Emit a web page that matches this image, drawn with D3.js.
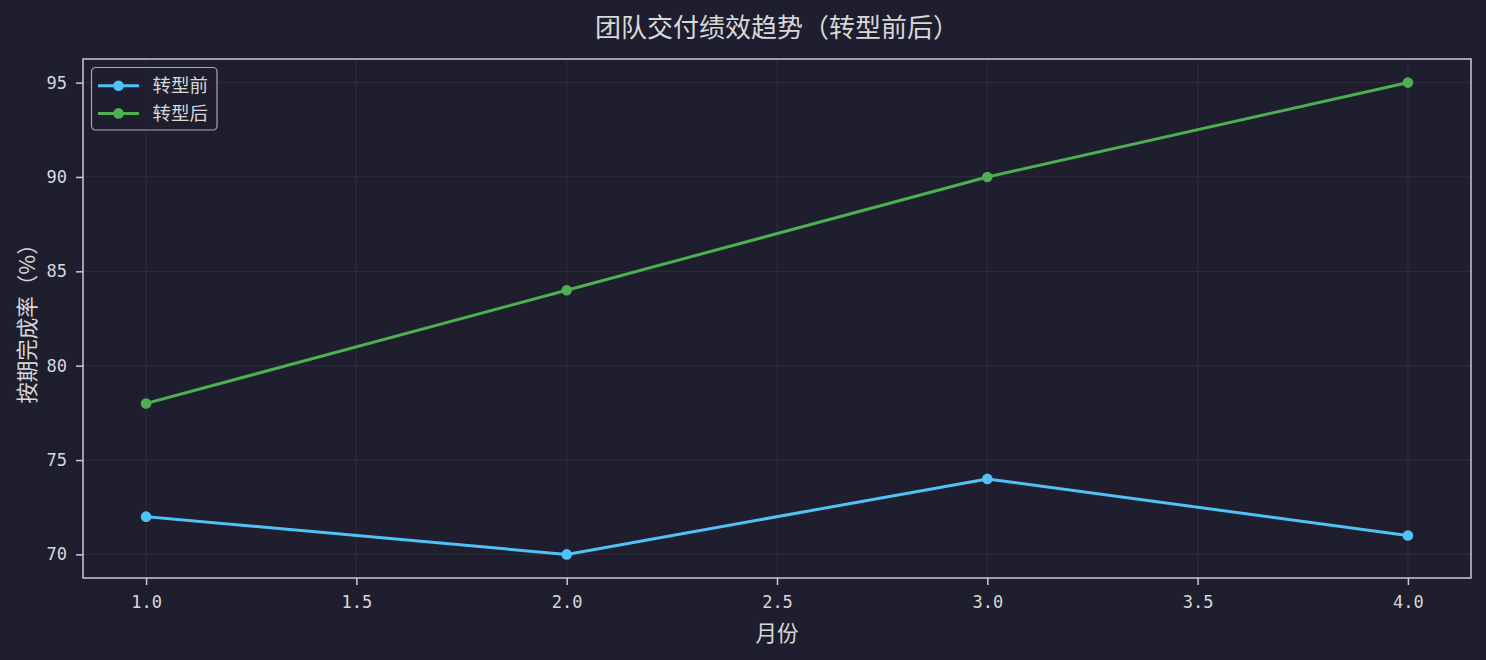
<!DOCTYPE html>
<html><head><meta charset="utf-8">
<script src="https://cdn.jsdelivr.net/npm/d3@7"></script>
<style>
html,body{margin:0;padding:0;background:#1e1e2e;}
svg{display:block;}
</style></head>
<body>
<svg id="c" width="1486" height="660"></svg>
<script>
const months = [1, 2, 3, 4];
const beforeVals = [72, 70, 74, 71];
const afterVals = [78, 84, 90, 95];
const seriesNames = ["转型前", "转型后"];
const xTicks = [1.0, 1.5, 2.0, 2.5, 3.0, 3.5, 4.0];
const yTicks = [70, 75, 80, 85, 90, 95];
const colors = ["#4fc3f7", "#4caf50"];

const W = 1486, H = 660;
const m = {left: 83, right: 1471, top: 59, bottom: 578};
const svg = d3.select("#c");
const fontCJK = "'Noto Sans CJK SC', 'Noto Sans', sans-serif";
const fontMono = "'DejaVu Sans Mono', monospace";
const textColor = "#d8d8d8";
const spineColor = "#cccccc";

svg.append("rect").attr("width", W).attr("height", H).attr("fill", "#1e1e2e");

const x = d3.scaleLinear().domain([0.85, 4.15]).range([m.left, m.right]);
const y = d3.scaleLinear().domain([68.75, 96.25]).range([m.bottom, m.top]);

// grid
const g = svg.append("g");
g.selectAll(".gx").data(xTicks).enter().append("line")
  .attr("x1", d => x(d)).attr("x2", d => x(d)).attr("y1", m.top).attr("y2", m.bottom)
  .attr("stroke", "#ffffff").attr("stroke-opacity", 0.06).attr("stroke-width", 1.2);
g.selectAll(".gy").data(yTicks).enter().append("line")
  .attr("y1", d => y(d)).attr("y2", d => y(d)).attr("x1", m.left).attr("x2", m.right)
  .attr("stroke", "#ffffff").attr("stroke-opacity", 0.06).attr("stroke-width", 1.2);

// axes
const xAxis = d3.axisBottom(x).tickValues(xTicks).tickFormat(d3.format(".1f")).tickSize(7).tickPadding(6);
const yAxis = d3.axisLeft(y).tickValues(yTicks).tickFormat(d3.format("d")).tickSize(7).tickPadding(9);
const gx = svg.append("g").attr("transform", `translate(0,${m.bottom})`).call(xAxis);
const gy = svg.append("g").attr("transform", `translate(${m.left},0)`).call(yAxis);
[gx, gy].forEach(a => {
  a.select(".domain").remove();
  a.selectAll(".tick line").attr("stroke", spineColor).attr("stroke-width", 1.5);
  a.selectAll(".tick text").attr("fill", textColor).style("font-family", fontMono).style("font-size", "17px");
});
gx.selectAll(".tick text").attr("y", 25).attr("dy", "0.32em");

// spines
svg.append("rect").attr("x", m.left).attr("y", m.top).attr("width", m.right - m.left).attr("height", m.bottom - m.top)
  .attr("fill", "none").attr("stroke", spineColor).attr("stroke-width", 1.5);

// lines
const line = d3.line().x((d, i) => x(months[i])).y(d => y(d));
[beforeVals, afterVals].forEach((vals, k) => {
  svg.append("path").datum(vals).attr("d", line).attr("fill", "none")
    .attr("stroke", colors[k]).attr("stroke-width", 3).attr("stroke-linejoin", "round").attr("stroke-linecap", "square");
  svg.selectAll(".pt" + k).data(vals).enter().append("circle")
    .attr("cx", (d, i) => x(months[i])).attr("cy", d => y(d)).attr("r", 5.3).attr("fill", colors[k]);
});

// title & labels
svg.append("text").attr("x", (m.left + m.right) / 2).attr("y", 37).attr("text-anchor", "middle")
  .attr("fill", textColor).style("font-family", fontCJK).style("font-size", "26px").text("团队交付绩效趋势（转型前后）");
svg.append("text").attr("x", (m.left + m.right) / 2).attr("y", 641).attr("text-anchor", "middle")
  .attr("fill", textColor).style("font-family", fontCJK).style("font-size", "21.5px").text("月份");
svg.append("text").attr("transform", `translate(35,${(m.top + m.bottom) / 2}) rotate(-90)`).attr("text-anchor", "middle")
  .attr("fill", textColor).style("font-family", fontCJK).style("font-size", "21.5px").text("按期完成率（%）");

// legend
const lg = svg.append("g").attr("transform", "translate(91.5,67.5)");
lg.append("rect").attr("width", 125.5).attr("height", 62.5).attr("rx", 4)
  .attr("fill", "#1e1e2e").attr("fill-opacity", 0.8).attr("stroke", "#aaaaaa").attr("stroke-width", 1.2);
seriesNames.forEach((name, k) => {
  const yy = 18.3 + k * 27.6;
  lg.append("line").attr("x1", 6.5).attr("x2", 47.5).attr("y1", yy).attr("y2", yy).attr("stroke", colors[k]).attr("stroke-width", 3);
  lg.append("circle").attr("cx", 27).attr("cy", yy).attr("r", 5.3).attr("fill", colors[k]);
  lg.append("text").attr("x", 61).attr("y", yy).attr("dy", "0.36em").attr("fill", textColor)
    .style("font-family", fontCJK).style("font-size", "18.5px").text(name);
});
</script>
</body></html>
